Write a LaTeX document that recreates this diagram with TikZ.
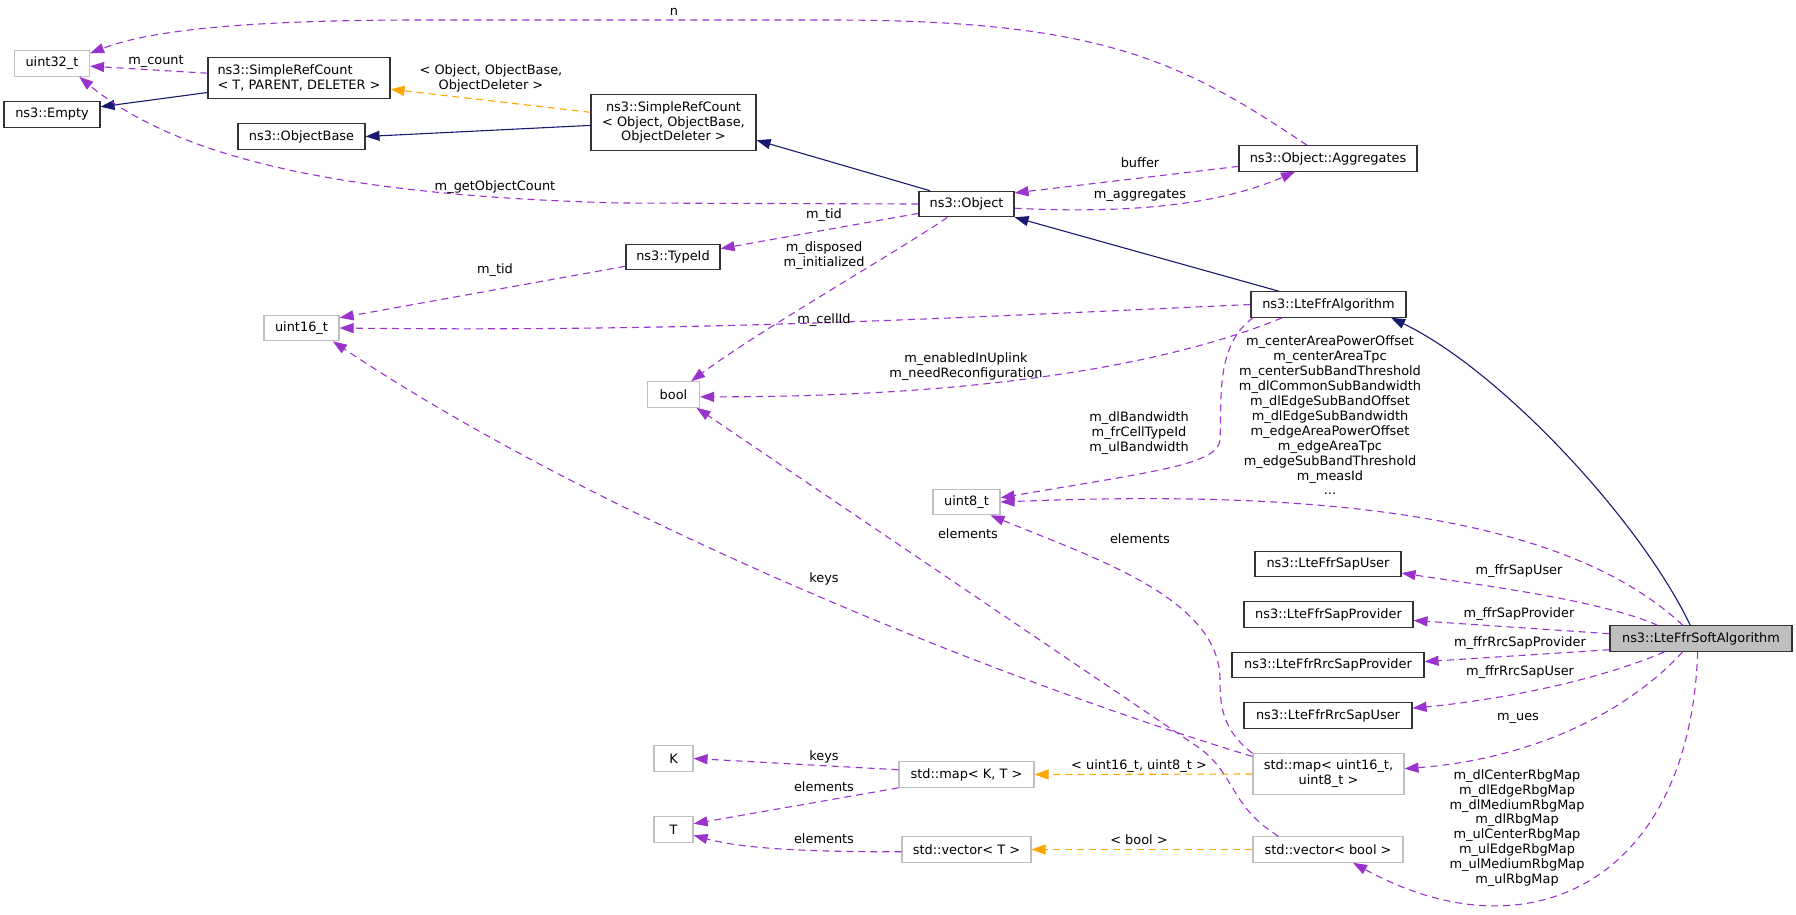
\documentclass[tikz,border=0pt]{standalone}
\usepackage{fontspec}
\setmainfont{DejaVu Sans}
\usepackage{tikz}
\usetikzlibrary{arrows.meta}

\definecolor{usecol}{HTML}{9A32CD}
\definecolor{inhcol}{HTML}{191970}
\definecolor{tplcol}{HTML}{FFA500}
\definecolor{extcol}{HTML}{BFBFBF}

\tikzset{
  cls/.style={draw=black!80, line width=1.1pt, inner xsep=3pt, inner ysep=2pt,
    minimum height=25.5pt, font=\fontsize{12.9}{14.9}\selectfont, align=center},
  ext/.style={cls, draw=extcol},
  cur/.style={cls, fill=extcol},
  lbl/.style={font=\fontsize{12.9}{14.9}\selectfont, align=center, inner sep=0pt},
  usage/.style={->, usecol, line width=1.1pt, dash pattern=on 7pt off 5pt},
  inherit/.style={->, inhcol, line width=1.1pt},
  tmpl/.style={->, tplcol, line width=1.1pt, dash pattern=on 7pt off 5pt},
  >={Triangle[length=14pt,width=10pt]}
}

\begin{document}
\begin{tikzpicture}[x=1pt,y=-1pt]
  \useasboundingbox (0,0) rectangle (1796,914);

  % classes
  \node[ext, minimum width=75pt] (u32) at (52,63.5) {uint32\_t};
  \node[cls, minimum width=96pt] (empty) at (52,114.5) {ns3::Empty};
  \node[cls, minimum width=182pt, minimum height=40.5pt, align=left] (srcT) at (299,78)
    {ns3::SimpleRefCount\\< T, PARENT, DELETER >};
  \node[cls, minimum width=127pt] (objb) at (301.5,136.5) {ns3::ObjectBase};
  \node[cls, minimum width=165pt, minimum height=55.5pt] (srcO) at (673.5,122.5)
    {ns3::SimpleRefCount\\< Object, ObjectBase,\\ObjectDeleter >};
  \node[cls, minimum width=95pt] (obj) at (966.5,204) {ns3::Object};
  \node[cls, minimum width=178pt] (aggr) at (1328,158.5) {ns3::Object::Aggregates};
  \node[cls, minimum width=94pt] (tid) at (673,257) {ns3::TypeId};
  \node[ext, minimum width=75pt] (u16) at (301.5,328) {uint16\_t};
  \node[ext, minimum width=52pt] (boolt) at (673.5,394.5) {bool};
  \node[cls, minimum width=155pt] (lfa) at (1328.5,304.5) {ns3::LteFfrAlgorithm};
  \node[ext, minimum width=67pt] (u8) at (966.5,502) {uint8\_t};
  \node[cls, minimum width=146pt] (su) at (1328,564) {ns3::LteFfrSapUser};
  \node[cls, minimum width=169pt] (sp) at (1328.5,614.5) {ns3::LteFfrSapProvider};
  \node[cur, minimum width=182pt] (soft) at (1701,638.5) {ns3::LteFfrSoftAlgorithm};
  \node[cls, minimum width=192pt] (rsp) at (1328,665) {ns3::LteFfrRrcSapProvider};
  \node[cls, minimum width=168pt] (rsu) at (1328,715.5) {ns3::LteFfrRrcSapUser};
  \node[ext, minimum width=151pt, minimum height=40.5pt] (m16) at (1328.5,774)
    {std::map< uint16\_t,\\uint8\_t >};
  \node[ext, minimum width=150pt] (vb) at (1328,849.5) {std::vector< bool >};
  \node[ext, minimum width=39pt] (k) at (673.5,758.5) {K};
  \node[ext, minimum width=135pt] (mkt) at (966.5,774.5) {std::map< K, T >};
  \node[ext, minimum width=39pt] (t) at (673.5,829.5) {T};
  \node[ext, minimum width=129pt] (vt) at (966.5,849.5) {std::vector< T >};

  % inheritance
  \draw[inherit] (srcT.189) -- (empty.9);
  \draw[inherit] (srcO.182) -- (objb.east);
  \draw[inherit] (obj.160) -- (srcO.348);
  \draw[inherit] (lfa.165) -- (obj.south east);
  \draw[inherit] (soft.129) .. controls (1640,520) and (1500,370) .. (lfa.348);

  % template instances
  \draw[tmpl] (srcO.173) -- (srcT.353);
  \draw[tmpl] (m16.west) -- (mkt.east);
  \draw[tmpl] (vb.west) -- (vt.east);

  % members
  \draw[usage] ([xshift=-21pt]aggr.north) .. controls (1180,60) and (1100,20) .. (830,20)
    -- (420,20) .. controls (250,20) and (150,30) .. (u32.15);
  \draw[usage] (srcT.177) -- (u32.356);
  \draw[usage] (obj.west) -- (620,203) .. controls (350,196) and (180,160) .. (u32.334);
  \draw[usage] (aggr.185) -- (obj.13);
  \draw[usage] (obj.355) .. controls (1150,215) and (1230,200) .. (aggr.202);
  \draw[usage] (obj.191) -- (tid.10);
  \draw[usage] (obj.215) .. controls (900,250) and (760,330) .. (boolt.37);
  \draw[usage] (tid.191) -- (u16.15);
  \draw[usage] (lfa.west) .. controls (950,318) and (700,332) .. (u16.east);
  \draw[usage] (lfa.196) .. controls (1180,360) and (1000,397) .. (boolt.355);
  \draw[usage] (lfa.190) .. controls (1215,345) and (1222,400) .. (1220,440)
    .. controls (1218,465) and (1150,472) .. (u8.7);
  \draw[usage] (soft.144) .. controls (1560,510) and (1300,490) .. (u8.east);
  \draw[usage] (soft.163) .. controls (1600,600) and (1480,585) .. (su.353);
  \draw[usage] (soft.177) -- (sp.356);
  \draw[usage] (soft.187) -- (rsp.2);
  \draw[usage] (soft.200) .. controls (1600,680) and (1500,700) .. (rsu.5);
  \draw[usage] (soft.216) .. controls (1620,720) and (1520,760) .. (m16.4);
  \draw[usage] (soft.256) .. controls (1690,880) and (1530,960) .. (vb.332);
  \draw[usage] (m16.167) .. controls (1000,680) and (600,520) .. (u16.337);
  \draw[usage] (m16.north west) .. controls (1222,730) and (1220,705) .. (1220,680)
    .. controls (1220,600) and (1100,560) .. (u8.331);
  \draw[usage] (vb.165) .. controls (1228,805) and (1236,772) .. (1195,745) -- (boolt.330);
  \draw[usage] (mkt.176) -- (k.east);
  \draw[usage] (mkt.south west) -- (t.16);
  \draw[usage] (vt.182) .. controls (800,852) and (740,848) .. (t.344);

  % edge labels
  \node[lbl] (l-n) at (674,12) {n};
  \node[lbl] (l-count) at (156,61) {m\_count};
  \node[lbl] (l-tpl1) at (491,78) {< Object, ObjectBase,\\ObjectDeleter >};
  \node[lbl] (l-goc) at (495,187) {m\_getObjectCount};
  \node[lbl] (l-buffer) at (1140,163) {buffer};
  \node[lbl] (l-aggr) at (1140,195) {m\_aggregates};
  \node[lbl] (l-tid1) at (824,215) {m\_tid};
  \node[lbl] (l-disp) at (824,255.5) {m\_disposed\\m\_initialized};
  \node[lbl] (l-tid2) at (495,270) {m\_tid};
  \node[lbl] (l-cell) at (824,320) {m\_cellId};
  \node[lbl] (l-upl) at (966,367) {m\_enabledInUplink\\m\_needReconfiguration};
  \node[lbl] (l-bw) at (1139,433.5) {m\_dlBandwidth\\m\_frCellTypeId\\m\_ulBandwidth};
  \node[lbl] (l-soft) at (1330,415.5) {m\_centerAreaPowerOffset\\m\_centerAreaTpc\\
    m\_centerSubBandThreshold\\m\_dlCommonSubBandwidth\\m\_dlEdgeSubBandOffset\\
    m\_dlEdgeSubBandwidth\\m\_edgeAreaPowerOffset\\m\_edgeAreaTpc\\
    m\_edgeSubBandThreshold\\m\_measId\\...};
  \node[lbl] (l-el1) at (968,534) {elements};
  \node[lbl] (l-el2) at (1140,539) {elements};
  \node[lbl] (l-keys1) at (824,579) {keys};
  \node[lbl] (l-su) at (1519,571) {m\_ffrSapUser};
  \node[lbl] (l-sp) at (1519,614) {m\_ffrSapProvider};
  \node[lbl] (l-rsp) at (1520,643) {m\_ffrRrcSapProvider};
  \node[lbl] (l-rsu) at (1520,672) {m\_ffrRrcSapUser};
  \node[lbl] (l-ues) at (1518,718) {m\_ues};
  \node[lbl] (l-rbg) at (1517,828) {m\_dlCenterRbgMap\\m\_dlEdgeRbgMap\\m\_dlMediumRbgMap\\
    m\_dlRbgMap\\m\_ulCenterRbgMap\\m\_ulEdgeRbgMap\\m\_ulMediumRbgMap\\m\_ulRbgMap};
  \node[lbl] (l-keys2) at (824,757) {keys};
  \node[lbl] (l-el3) at (824,787) {elements};
  \node[lbl] (l-el4) at (824,839) {elements};
  \node[lbl] (l-tpl2) at (1139,766) {< uint16\_t, uint8\_t >};
  \node[lbl] (l-tpl3) at (1139,840) {< bool >};
\end{tikzpicture}
\end{document}
